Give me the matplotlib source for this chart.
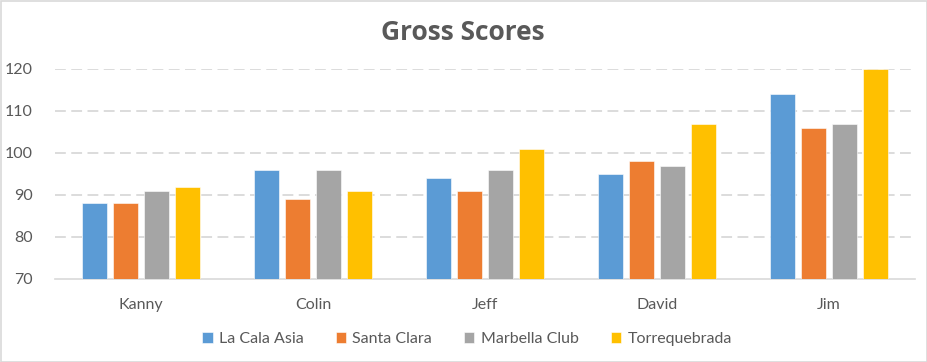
import matplotlib
matplotlib.use('Agg')
import matplotlib.pyplot as plt
import numpy as np
from matplotlib.patches import Rectangle

plt.rcParams['font.family'] = ['Lato', 'DejaVu Sans']

# data
players = ['Kanny', 'Colin', 'Jeff', 'David', 'Jim']
courses = ['La Cala Asia', 'Santa Clara', 'Marbella Club', 'Torrequebrada']
la_cala = [88, 96, 94, 95, 114]
santa_clara = [88, 89, 91, 98, 106]
marbella = [91, 96, 96, 97, 107]
torreq = [92, 91, 101, 107, 120]
colors = ['#5B9BD5', '#ED7D31', '#A5A5A5', '#FFC000']

txt = '#595959'
grid = '#D9D9D9'

fig = plt.figure(figsize=(9.28, 3.62), dpi=100)
ax = fig.add_axes([55/928, 1 - 279/362, 860/928, 210/362])

x = np.arange(len(players))
step = 0.18
width = 0.145
series = [la_cala, santa_clara, marbella, torreq]
for i, (vals, name, c) in enumerate(zip(series, courses, colors)):
    ax.bar(x + (i - 1.5) * step, vals, width=width, color=c, label=name,
           edgecolor='white', linewidth=0.4, zorder=3)

ax.set_ylim(70, 120)
ax.set_xlim(-0.5, 4.5)
ax.set_yticks(range(70, 121, 10))
ax.set_xticks(x)
ax.set_xticklabels(players)

# dashed gridlines (70 is the axis line)
for v in range(80, 121, 10):
    ax.axhline(v, color=grid, linewidth=1.3, linestyle=(0, (6, 3)), zorder=1)

for s in ['top', 'right', 'left']:
    ax.spines[s].set_visible(False)
ax.spines['bottom'].set_color(grid)
ax.spines['bottom'].set_linewidth(1.2)
ax.tick_params(axis='both', length=0, labelsize=11.5, colors=txt)
ax.tick_params(axis='y', pad=16)
ax.tick_params(axis='x', pad=14)

fig.text(463/928, 1 - 32/362, 'Gross Scores', ha='center', va='center',
         fontsize=19, fontweight='bold', color=txt,
         family=['Open Sans', 'DejaVu Sans'])

fig.legend(loc='center', bbox_to_anchor=(467/928, 1 - 339/362), ncol=4,
           frameon=False, fontsize=11.5, labelcolor=txt,
           handlelength=0.65, handleheight=0.65, handletextpad=0.4,
           columnspacing=2.0)

# chart border
fig.patches.append(Rectangle((0.5/928, 0.5/362), 1 - 1/928, 1 - 1/362,
                             transform=fig.transFigure, fill=False,
                             edgecolor=grid, linewidth=1.2))

fig.savefig('out.png', dpi=100, facecolor='white')
